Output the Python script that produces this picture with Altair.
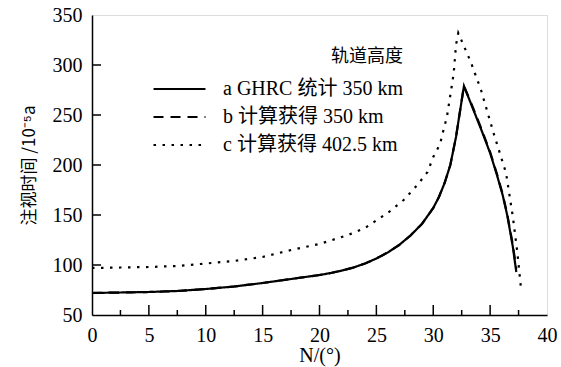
import altair as alt
import pandas as pd

labels = ["a GHRC 统计 350 km", "b 计算获得 350 km", "c 计算获得 402.5 km"]

xa = [0, 2.5, 5, 7.5, 10, 12.5, 15, 17.5, 20, 21, 22, 23, 24, 25, 26, 27, 28, 29, 30, 30.5, 31, 31.5, 32, 32.3, 32.7, 33.5, 34.2, 35, 35.6, 36.1, 36.5, 37, 37.3]
ya = [72, 72.5, 73, 74, 76, 78.5, 82, 86, 90, 92, 94.5, 97.5, 101.5, 106.5, 112.5, 120, 129.5, 141, 157, 168, 182, 200, 228, 250, 279, 256, 236, 212, 190, 170, 150, 118, 93]

xb = [0, 2.5, 5, 7.5, 10, 12.5, 15, 17.5, 20, 21, 22, 23, 24, 25, 26, 27, 28, 29, 30, 30.5, 31, 31.5, 32, 32.3, 32.7, 33.5, 34.2, 35, 35.6, 36.1, 36.5, 37, 37.3]
yb = [72, 72.5, 73, 74, 76, 78.5, 82, 86, 90, 92, 94.5, 97.5, 101.5, 106.5, 112.5, 120, 129.5, 141, 157, 168, 182, 200, 228, 250, 279, 257, 237, 213, 191, 171, 151, 120, 96]

xc = [0, 2.5, 5, 7.5, 10, 12.5, 15, 17.5, 20, 22.5, 24, 26.1, 27.4, 28.6, 29.5, 30, 30.6, 30.9, 31.2, 31.6, 31.8, 32.0, 32.2, 33.3, 34.2, 35.3, 36.4, 37, 37.4, 37.7]
yc = [97, 97.5, 98, 99, 101.5, 104, 108, 115, 121, 130, 137, 153, 165, 180, 193, 208, 221, 235, 248, 277, 292, 320, 332, 303, 275, 232, 192, 148, 112, 78]

x_major = [5, 10, 15, 20, 25, 30, 35]
x_minor = [2.5, 7.5, 12.5, 17.5, 22.5, 27.5, 32.5, 37.5]
y_major = [100, 150, 200, 250, 300]

rows = []
for lab, xs, ys in [(labels[0], xa, ya), (labels[1], xb, yb), (labels[2], xc, yc)]:
    for i, (x, y) in enumerate(zip(xs, ys)):
        rows.append({"series": lab, "N": x, "t": y, "order": i})
df = pd.DataFrame(rows)

FONT = "'Liberation Serif', 'Times New Roman', 'Noto Sans CJK SC', serif"
CJK = "'Noto Sans CJK SC', sans-serif"
W, H = 455, 300

xscale = alt.Scale(domain=[0, 40], nice=False, zero=False)
yscale = alt.Scale(domain=[50, 350], nice=False, zero=False)

lines = alt.Chart(df).mark_line(strokeWidth=2.2, color="black", strokeCap="butt").encode(
    x=alt.X("N:Q", scale=xscale,
            axis=alt.Axis(title="N/(°)", values=[0, 5, 10, 15, 20, 25, 30, 35, 40],
                          ticks=False, labelPadding=10, titlePadding=0,
                          labelFont=FONT, labelFontSize=20, titleFont=FONT, titleFontSize=20,
                          labelColor="black", titleColor="black", titleFontWeight="normal",
                          domainColor="black", domainWidth=1.5, grid=False, labelFlush=False)),
    y=alt.Y("t:Q", scale=yscale,
            axis=alt.Axis(title="注视时间 /10⁻⁵a", values=[50, 100, 150, 200, 250, 300, 350],
                          ticks=False, labelPadding=10, titlePadding=14,
                          labelFont=FONT, labelFontSize=20, titleFont=CJK, titleFontSize=17,
                          labelColor="black", titleColor="black", titleFontWeight="normal",
                          domainColor="black", domainWidth=1.5, grid=False)),
    strokeDash=alt.StrokeDash("series:N",
        scale=alt.Scale(domain=labels, range=[[1, 0], [10, 7], [2.5, 6.5]]),
        legend=alt.Legend(title="轨道高度", orient="none", legendX=60, legendY=33,
                          symbolType="stroke", symbolSize=2700, symbolStrokeWidth=2.2,
                          symbolStrokeColor="black", clipHeight=26,
                          labelFont=FONT, labelFontSize=20, labelColor="black", labelLimit=400,
                          titleFont=CJK, titleFontSize=18, titleColor="black",
                          titleFontWeight="normal", titleAnchor="end", titlePadding=10,
                          labelOffset=16, rowPadding=2)),
    order="order:Q",
)

xmaj = alt.Chart(pd.DataFrame({"v": x_major})).mark_rule(color="black", strokeWidth=1.5).encode(
    x=alt.X("v:Q", scale=xscale), y=alt.value(H), y2=alt.value(H - 10))
xmin = alt.Chart(pd.DataFrame({"v": x_minor})).mark_rule(color="black", strokeWidth=1.5).encode(
    x=alt.X("v:Q", scale=xscale), y=alt.value(H), y2=alt.value(H - 5))
ymaj = alt.Chart(pd.DataFrame({"v": y_major})).mark_rule(color="black", strokeWidth=1.5).encode(
    y=alt.Y("v:Q", scale=yscale), x=alt.value(0), x2=alt.value(9))

chart = alt.layer(lines, xmaj, xmin, ymaj).properties(
    width=W, height=H,
    autosize=alt.AutoSizeParams(type="none"),
    padding={"left": 92, "top": 15, "right": 14, "bottom": 52},
).configure_view(stroke="black", strokeWidth=1.5).configure(background="white")

chart.save("out.html", embed_options={"renderer": "svg", "actions": False})
